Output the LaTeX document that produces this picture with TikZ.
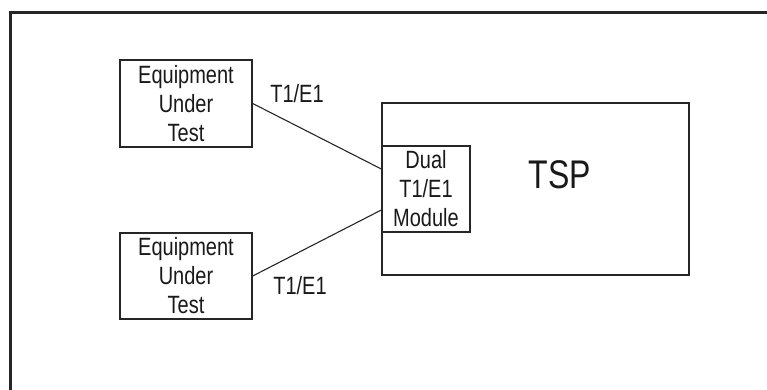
\documentclass[tikz,border=0pt]{standalone}
\usepackage{fontspec}
\setmainfont[FakeStretch=0.8]{Liberation Sans}
\usetikzlibrary{calc}
\begin{document}
\begin{tikzpicture}[x=1pt,y=-1pt,
  box/.style={draw=black!85,line width=1.4pt,rectangle,inner sep=0pt,
    align=center,font=\fontsize{25}{29}\selectfont,text=black!90},
  link/.style={draw=black!85,line width=1.1pt},
  lbl/.style={inner sep=0pt,font=\fontsize{25}{29}\selectfont,text=black!90}]
\useasboundingbox (0,0) rectangle (767,390);
% outer frame (top and left edges)
\draw[black!85,line width=3pt] (10.5,390) -- (10.5,12.5) -- (767,12.5);
% equipment boxes
\node[box,minimum width=132pt,minimum height=87pt] (eut1) at (186,103.5)
  {Equipment\\Under\\Test};
\node[box,minimum width=132pt,minimum height=86pt] (eut2) at (186,276)
  {Equipment\\Under\\Test};
% TSP chassis
\node[box,minimum width=307pt,minimum height=172pt] (tsp) at (535.5,189) {};
\node[lbl,font=\fontsize{40}{44}\selectfont] (tsptext) at (560,174.5) {TSP};
% dual module
\node[box,minimum width=88pt,minimum height=86pt] (mod) at (426,189)
  {Dual\\T1/E1\\Module};
% links
\draw[link] (eut1.east) -- ([yshift=20pt]mod.west);
\draw[link] (eut2.east) -- ([yshift=-21pt]mod.west);
\node[lbl] (l1) at (297,94) {T1/E1};
\node[lbl] (l2) at (300,286) {T1/E1};
\end{tikzpicture}
\end{document}
